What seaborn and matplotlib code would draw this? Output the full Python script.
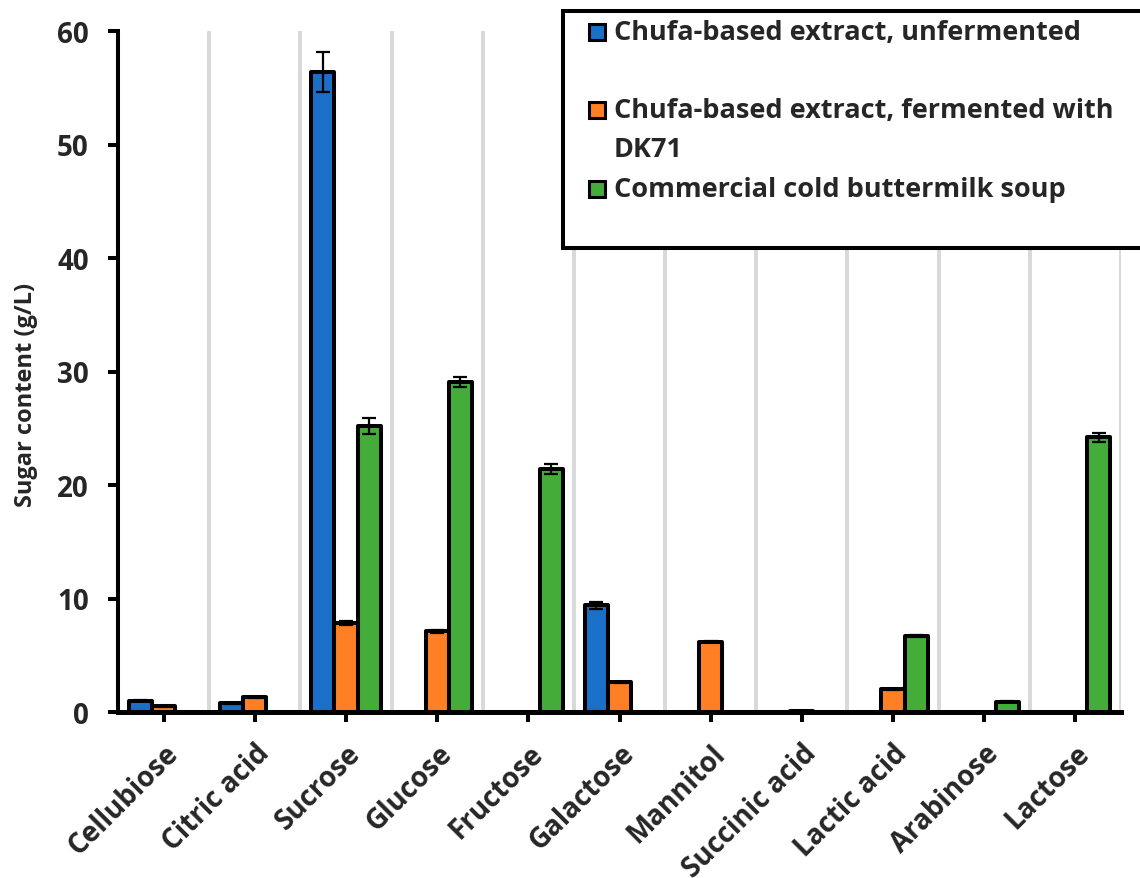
import matplotlib
matplotlib.use("Agg")
import matplotlib.pyplot as plt
from matplotlib.patches import Rectangle
import seaborn as sns
import pandas as pd
import numpy as np

categories = ["Cellubiose", "Citric acid", "Sucrose", "Glucose", "Fructose", "Galactose",
              "Mannitol", "Succinic acid", "Lactic acid", "Arabinose", "Lactose"]
series = ["Chufa-based extract, unfermented",
          "Chufa-based extract, fermented with DK71",
          "Commercial cold buttermilk soup"]
unfermented = [1.0, 0.75, 56.4, 0, 0, 9.4, 0, 0, 0, 0, 0]
fermented = [0.5, 1.3, 7.85, 7.1, 0, 2.6, 6.2, 0.05, 2.0, 0, 0]
buttermilk = [0, 0, 25.2, 29.1, 21.4, 0, 0, 0, 6.7, 0.9, 24.2]
err_unfermented = [0.05, 0.05, 1.75, 0, 0, 0.3, 0, 0, 0, 0, 0]
err_fermented = [0.05, 0.05, 0.15, 0.1, 0, 0.05, 0.05, 0, 0.05, 0, 0]
err_buttermilk = [0, 0, 0.7, 0.45, 0.45, 0, 0, 0, 0.05, 0.05, 0.4]
colors = ["#1A6FC6", "#FF8024", "#44AD3A"]
yticks = [0, 10, 20, 30, 40, 50, 60]

values = [unfermented, fermented, buttermilk]
errors = [err_unfermented, err_fermented, err_buttermilk]
rows = []
for s, vals in zip(series, values):
    for c, v in zip(categories, vals):
        rows.append({"Category": c, "Series": s, "Value": v})
df = pd.DataFrame(rows)

sns.set_style("white")
plt.rcParams["font.family"] = ["Open Sans", "DejaVu Sans"]

fig = plt.figure(figsize=(11.4, 8.79), dpi=100)
ax = fig.add_axes([118/1140, 1 - 713/879, (1121-118)/1140, (713-32)/879])

sns.barplot(data=df, x="Category", y="Value", hue="Series", order=categories,
            hue_order=series, palette=colors, saturation=1, errorbar=None, width=0.76,
            edgecolor="black", linewidth=2.9, ax=ax, legend=False, zorder=2)
for cont in ax.containers:
    for p in cont.patches:
        p.set_joinstyle("round")

for cont, errs in zip(ax.containers, errors):
    xs = [p.get_x() + p.get_width() / 2 for p in cont.patches]
    hs = [p.get_height() for p in cont.patches]
    for x, h, e in zip(xs, hs, errs):
        if e > 0:
            ax.errorbar(x, h, yerr=e, fmt="none", ecolor="black", elinewidth=1.6,
                        capsize=4.7, capthick=1.6, zorder=4)

ax.set_xlim(-0.5, len(categories) - 0.5)
ax.set_ylim(0, 60)
ax.set_yticks(yticks)
ax.set_xticks(range(len(categories)))
ax.set_xticks(np.arange(0.5, len(categories), 1.0), minor=True)
ax.grid(False)
ax.grid(True, which="minor", axis="x", color="#D9D9D9", linewidth=2.9, zorder=0)
ax.set_axisbelow(True)

ax.set_xticklabels(categories, rotation=45, ha="right", va="top",
                   rotation_mode="anchor", fontsize=20, fontweight="bold")
ax.set_yticklabels([str(t) for t in yticks], fontsize=20, fontweight="bold")
ax.tick_params(axis="both", which="major", direction="out", length=7, width=2.9,
               color="black", left=True, bottom=True)
ax.tick_params(axis="x", which="major", pad=12)
ax.tick_params(axis="y", which="major", pad=14)
ax.tick_params(axis="both", which="minor", length=0)

ax.set_xlabel("")
ax.set_ylabel("Sugar content (g/L)", fontsize=17, fontweight="bold")
ax.yaxis.set_label_coords(-80 / 1003, (713 - 395) / 681)

for side in ["top", "right"]:
    ax.spines[side].set_visible(False)
ax.spines["left"].set_linewidth(2.9)
ax.spines["bottom"].set_linewidth(3.6)
ax.spines["left"].set_color("black")
ax.spines["bottom"].set_color("black")

# Legend (Excel-style box)
W, H = 1140, 879
def fx(px):
    return px / W
def fy(py):
    return 1 - py / H

box = Rectangle((fx(563), fy(249)), fx(1200) - fx(563), fy(12) - fy(249),
                transform=fig.transFigure, facecolor="white", edgecolor="black",
                linewidth=2.9, zorder=10, clip_on=False)
fig.patches.append(box)
entries = [(["Chufa-based extract, unfermented"], 33, colors[0]),
           (["Chufa-based extract, fermented with", "DK71"], 111, colors[1]),
           (["Commercial cold buttermilk soup"], 190, colors[2])]
for lines, yc, col in entries:
    sq = Rectangle((fx(589), fy(yc + 8)), fx(16), 16 / H, transform=fig.transFigure,
                   facecolor=col, edgecolor="black", linewidth=2.2, zorder=11)
    fig.patches.append(sq)
    for k, line in enumerate(lines):
        fig.text(fx(614), fy(yc + 39 * k), line, ha="left", va="center",
                 fontsize=19.5, fontweight="bold", zorder=12)

fig.savefig("out.png", dpi=100)
